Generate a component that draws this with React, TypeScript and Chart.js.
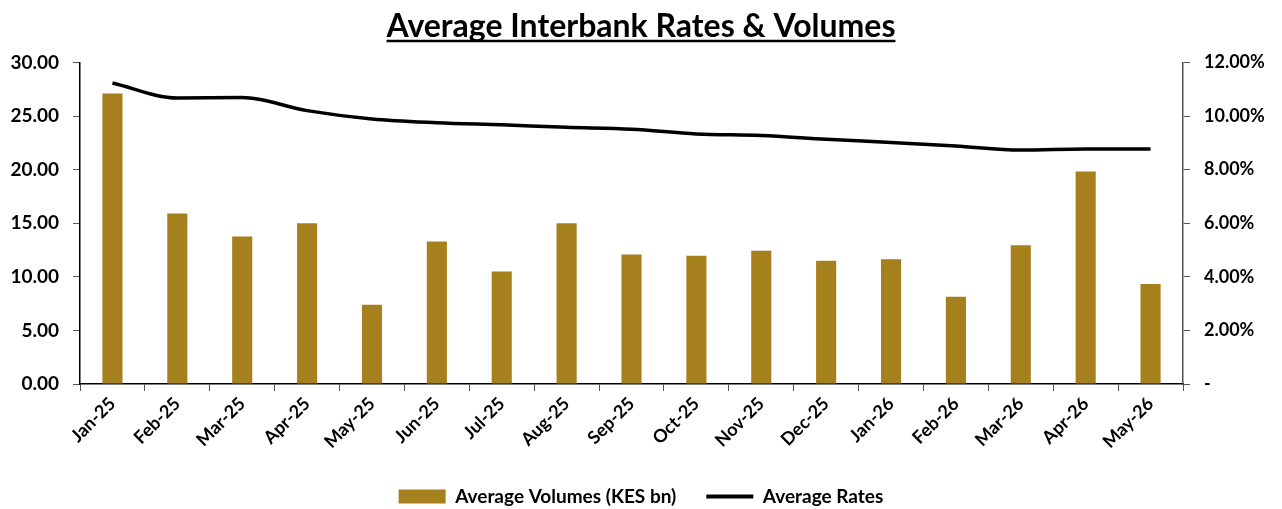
import React, { useEffect, useRef } from "react";
import { Chart, registerables } from "chart.js";

Chart.register(...registerables);

const categories = [
  "Jan-25", "Feb-25", "Mar-25", "Apr-25", "May-25", "Jun-25", "Jul-25", "Aug-25",
  "Sep-25", "Oct-25", "Nov-25", "Dec-25", "Jan-26", "Feb-26", "Mar-26", "Apr-26", "May-26",
];
const volumes = [27.1, 15.9, 13.75, 15.0, 7.4, 13.3, 10.5, 15.0, 12.07, 11.97, 12.44, 11.5, 11.63, 8.14, 12.94, 19.83, 9.32];
const rates = [11.23, 10.67, 10.69, 10.2, 9.89, 9.75, 9.67, 9.58, 9.51, 9.33, 9.27, 9.13, 9.01, 8.88, 8.73, 8.77, 8.77];
const leftTicks = { min: 0, max: 30, step: 5 };
const rightTicks = { min: 0, max: 12, step: 2 };

const FONT = "Lato, 'Open Sans', sans-serif";
const TITLE = "Average Interbank Rates & Volumes";
const TITLE_SIZE = 32;

const underlinePlugin = {
  id: "titleUnderline",
  afterDraw(chart: any) {
    const tb = chart.titleBlock;
    if (!tb) return;
    const ctx = chart.ctx;
    ctx.save();
    ctx.font = `bold ${TITLE_SIZE}px ${FONT}`;
    const w = ctx.measureText(TITLE).width;
    const cx = tb.left + tb.width / 2;
    const y = tb.top + tb.options.padding.top + 34;
    ctx.strokeStyle = "#000";
    ctx.lineWidth = 2.5;
    ctx.beginPath();
    ctx.moveTo(cx - w / 2, y);
    ctx.lineTo(cx + w / 2, y);
    ctx.stroke();
    ctx.restore();
  },
};

export default function App() {
  const ref = useRef<HTMLCanvasElement>(null);
  useEffect(() => {
    document.body.style.margin = "0";
    const chart = new Chart(ref.current!, {
      type: "bar",
      data: {
        labels: categories,
        datasets: [
          {
            type: "line",
            label: "Average Rates",
            data: rates,
            yAxisID: "y1",
            borderColor: "#000",
            backgroundColor: "#000",
            borderWidth: 3.5,
            pointRadius: 0,
            tension: 0.4,
            cubicInterpolationMode: "monotone",
            order: 0,
          } as any,
          {
            type: "bar",
            label: "Average Volumes (KES bn)",
            data: volumes,
            yAxisID: "y",
            backgroundColor: "#A6801C",
            borderColor: "#A6801C",
            barPercentage: 0.31,
            categoryPercentage: 1,
            order: 1,
          },
        ],
      },
      options: {
        animation: false,
        responsive: false,
        layout: { padding: { left: 0, right: 0, top: 0, bottom: -7 } },
        plugins: {
          title: {
            display: true,
            text: TITLE,
            color: "#000",
            font: { family: FONT, size: TITLE_SIZE, weight: "bold" },
            padding: { top: 7, bottom: 17 },
          },
          legend: {
            position: "bottom",
            reverse: true,
            labels: {
              color: "#000",
              font: { family: FONT, size: 19, weight: "bold" },
              usePointStyle: true,
              pointStyleWidth: 47,
              boxHeight: 14,
              padding: 30,
              generateLabels(chart: any) {
                const items = Chart.defaults.plugins.legend.labels.generateLabels(chart);
                return items.map((it: any) => {
                  if (it.text === "Average Rates") {
                    return { ...it, pointStyle: "line", fillStyle: "#000", strokeStyle: "#000", lineWidth: 4 };
                  }
                  return { ...it, pointStyle: "rect", fillStyle: "#A6801C", strokeStyle: "#A6801C", lineWidth: 0 };
                });
              },
            },
          },
          tooltip: { enabled: false },
        },
        scales: {
          x: {
            grid: { drawOnChartArea: false, offset: true, tickLength: 7, color: "#555" },
            border: { color: "#000", width: 1.5 },
            ticks: {
              color: "#000",
              font: { family: FONT, size: 18, weight: "bold" },
              maxRotation: 45,
              minRotation: 45,
              padding: 2,
            },
            afterFit(s: any) { s.height = 73; },
          },
          y: {
            position: "left",
            min: leftTicks.min,
            max: leftTicks.max,
            grid: { drawOnChartArea: false, tickLength: 7, color: "#555" },
            border: { color: "#000", width: 1.5 },
            ticks: {
              stepSize: leftTicks.step,
              color: "#000",
              font: { family: FONT, size: 19, weight: "bold" },
              padding: 14,
              callback: (v: any) => Number(v).toFixed(2),
            },
            afterFit(s: any) { s.width = 80; },
          },
          y1: {
            position: "right",
            min: rightTicks.min,
            max: rightTicks.max,
            grid: { drawOnChartArea: false, tickLength: 7, color: "#555" },
            border: { color: "#555", width: 1.5 },
            ticks: {
              stepSize: rightTicks.step,
              color: "#000",
              font: { family: FONT, size: 18, weight: "bold" },
              padding: 14,
              callback: (v: any) => (Number(v) === 0 ? "-" : Number(v).toFixed(2) + "%"),
            },
            afterFit(s: any) { s.width = 99; },
          },
        },
      } as any,
      plugins: [underlinePlugin],
    });
    return () => chart.destroy();
  }, []);
  return <canvas ref={ref} width={1282} height={509} style={{ display: "block" }} />;
}
